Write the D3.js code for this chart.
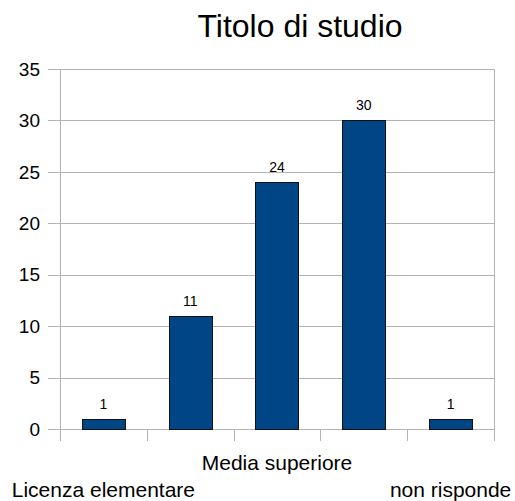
<!DOCTYPE html>
<html>
<head>
<meta charset="utf-8">
<script src="https://cdn.jsdelivr.net/npm/d3@7"></script>
<style>
html,body{margin:0;padding:0;background:#fff;}
svg{display:block;font-family:"Liberation Sans",Arial,sans-serif;}
</style>
</head>
<body>
<svg id="chart" width="515" height="501"></svg>
<script>
const title = "Titolo di studio";
const categories = ["Licenza elementare", "Licenza media", "Media superiore", "Laurea", "non risponde"];
const values = [1, 11, 24, 30, 1];
const shownLabels = ["Licenza elementare", "Media superiore", "non risponde"];
const yTicks = [0, 5, 10, 15, 20, 25, 30, 35];

const svg = d3.select("#chart");
const plotLeft = 60, plotRight = 494, plotTop = 69, plotBottom = 429;

const x = d3.scaleBand().domain(categories).range([plotLeft, plotRight]).paddingInner(0.5).paddingOuter(0.25);
const y = d3.scaleLinear().domain([0, 35]).range([plotBottom, plotTop]);

// gridlines
svg.append("g").selectAll("line").data(yTicks).join("line")
  .attr("x1", plotLeft - 12).attr("x2", plotRight)
  .attr("y1", d => Math.round(y(d)) + 0.5).attr("y2", d => Math.round(y(d)) + 0.5)
  .attr("stroke", "#b3b3b3").attr("stroke-width", 1);

// vertical borders
[plotLeft, plotRight].forEach(px => {
  svg.append("line").attr("x1", px + 0.5).attr("x2", px + 0.5)
    .attr("y1", plotTop).attr("y2", plotBottom + 12)
    .attr("stroke", "#b3b3b3").attr("stroke-width", 1);
});

// category ticks at band boundaries
const step = x.step();
const bounds = d3.range(1, categories.length).map(i => x(categories[i]) - step * 0.25);
svg.append("g").selectAll("line").data(bounds).join("line")
  .attr("x1", d => Math.round(d) + 0.5).attr("x2", d => Math.round(d) + 0.5)
  .attr("y1", plotBottom).attr("y2", plotBottom + 12)
  .attr("stroke", "#b3b3b3").attr("stroke-width", 1);

// y tick labels
svg.append("g").selectAll("text").data(yTicks).join("text")
  .attr("x", 40).attr("y", d => y(d)).attr("dy", "0.35em")
  .attr("text-anchor", "end").attr("font-size", 19).attr("fill", "#000")
  .text(d => d);

// bars
svg.append("g").selectAll("rect").data(values).join("rect")
  .attr("x", (d, i) => Math.round(x(categories[i])) + 0.5)
  .attr("y", d => Math.round(y(d)) + 0.5)
  .attr("width", Math.round(x.bandwidth()))
  .attr("height", d => Math.round(y(0)) - Math.round(y(d)))
  .attr("fill", "#004586").attr("stroke", "#111").attr("stroke-width", 1);

// value labels
svg.append("g").selectAll("text").data(values).join("text")
  .attr("x", (d, i) => x(categories[i]) + x.bandwidth() / 2)
  .attr("y", d => y(d) - 10)
  .attr("text-anchor", "middle").attr("font-size", 14).attr("fill", "#000")
  .text(d => d);

// category labels (staggered rows)
svg.append("g").selectAll("text").data(categories.filter(c => shownLabels.includes(c))).join("text")
  .attr("x", d => x(d) + x.bandwidth() / 2)
  .attr("y", d => categories.indexOf(d) % 4 === 2 ? 470 : 497)
  .attr("text-anchor", "middle").attr("font-size", 21).attr("fill", "#000")
  .text(d => d);

// title
svg.append("text").attr("x", 300).attr("y", 37)
  .attr("text-anchor", "middle").attr("font-size", 32).attr("fill", "#000")
  .text(title);
</script>
</body>
</html>
